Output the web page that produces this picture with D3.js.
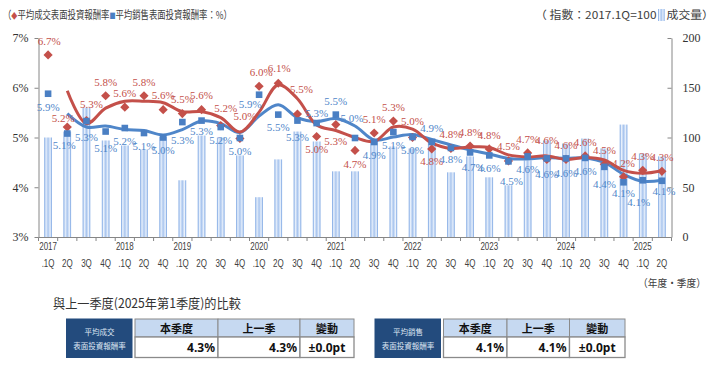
<!DOCTYPE html>
<html><head><meta charset="utf-8">
<script src="https://cdn.jsdelivr.net/npm/d3@7/dist/d3.min.js"></script>
<style>
body{margin:0;background:#fff;}
svg{display:block;}
</style>
</head><body>
<svg id="c" width="717" height="373"></svg>
<script>
// ---------- DATA ----------
const categories = ["2017.1Q","2017.2Q","2017.3Q","2017.4Q","2018.1Q","2018.2Q","2018.4Q",
  "2019.1Q","2019.2Q","2019.3Q","2019.4Q","2020.1Q","2020.2Q","2020.3Q","2020.4Q",
  "2021.1Q","2021.2Q","2021.3Q","2021.4Q","2022.1Q","2022.2Q","2022.3Q","2022.4Q",
  "2023.1Q","2023.2Q","2023.3Q","2023.4Q","2024.1Q","2024.2Q","2024.3Q","2024.4Q",
  "2025.1Q","2025.2Q"];
// 平均成交表面投資報酬率 (%)
const txYield = [6.66,5.21,5.34,5.84,5.61,5.84,5.56,5.48,5.56,5.24,4.98,6.03,6.09,5.47,5.02,
  5.26,4.74,5.09,5.33,5.00,4.77,4.78,4.83,4.77,4.53,4.69,4.56,4.56,4.63,4.46,4.21,4.34,4.32];
// 平均銷售表面投資報酬率 (%)
const askYield = [5.88,5.08,5.33,5.12,5.19,5.09,5.00,5.31,5.34,5.21,4.99,5.86,5.46,5.34,5.29,
  5.46,4.99,4.91,5.11,5.01,4.91,4.79,4.70,4.64,4.52,4.62,4.58,4.58,4.59,4.41,4.10,4.14,4.13];
// trend lines (2-quarter moving average)
const txTrend = [null,5.94,5.28,5.59,5.73,5.73,5.70,5.52,5.52,5.40,5.11,5.51,6.06,5.78,5.25,
  5.14,5.00,4.92,5.21,5.17,4.89,4.78,4.81,4.80,4.65,4.61,4.63,4.56,4.60,4.55,4.34,4.28,4.33];
const askTrend = [null,5.48,5.21,5.23,5.16,5.14,5.05,5.16,5.33,5.28,5.10,5.43,5.66,5.40,5.32,
  5.38,5.23,4.95,5.01,5.06,4.96,4.85,4.75,4.67,4.58,4.57,4.60,4.58,4.59,4.50,4.26,4.12,4.14];
// 成交量 (指數: 2017.1Q=100)
const volumeIndex = [100,106,130,97,92,88,101,57,102,100,82,40,78,106,96,66,66,98,91,89,99,
  65,81,60,52,77,97,94,99,89,113,84,81];
const leftTicks = [3,4,5,6,7];
const rightTicks = [0,50,100,150,200];
const tableHeaders = ["本季度","上一季","變動"];
const txCompare = ["4.3%","4.3%","±0.0pt"];
const askCompare = ["4.1%","4.1%","±0.0pt"];

// ---------- LABEL PLACEMENT (style) ----------
const redShift = {0:[1,-14],1:[-4,-9],2:[5,-16],9:[5,-17],10:[5,-22],11:[2,-14],12:[1,-15],13:[4,-25],
  14:[0,13],15:[0,17],16:[0,14],19:[0,-16],20:[0,12],24:[0,-15],26:[0,-19]};
const blueShift = {1:[-3,12],2:[0,16],3:[0,17],7:[0,18],8:[0,11],11:[-9,9],13:[0,17],14:[0,-10],
  15:[0,-13],16:[-3,-20],20:[0,-14],21:[0,11],22:[3,15],24:[3,20],26:[0,16],27:[0,15],29:[0,17],
  30:[0,11],31:[-4,22],32:[2,10]};

const RED = "#c4504a", BLUE = "#4a7fc3", BLUEL = "#4f86c9", AX = "#868686", TXT = "#404040";
const svg = d3.select("#c");

const x = d3.scaleBand().domain(categories).range([38.5, 671.5]).padding(0);
const cx = c => x(c) + x.bandwidth() / 2;
const yL = d3.scaleLinear().domain([3, 7]).range([237, 38]);
const yR = d3.scaleLinear().domain([0, 200]).range([237, 38]);

// gradient for bars
const defs = svg.append("defs");
const g = defs.append("linearGradient").attr("id", "bar").attr("x1", 0).attr("x2", 1).attr("y1", 0).attr("y2", 0);
[[0,"#6f9de0"],[0.22,"#e9f1fc"],[0.5,"#a9c5ee"],[0.78,"#e9f1fc"],[1,"#6f9de0"]]
  .forEach(s => g.append("stop").attr("offset", s[0]).attr("stop-color", s[1]));

// bars
const bw = 7.6;
svg.append("g").selectAll("rect").data(categories).join("rect")
  .attr("x", c => cx(c) - bw / 2).attr("width", bw)
  .attr("y", (c, i) => yR(volumeIndex[i])).attr("height", (c, i) => yR(0) - yR(volumeIndex[i]))
  .attr("fill", "url(#bar)");

// axes
const la = svg.append("g").attr("transform", "translate(38.5,0)")
  .call(d3.axisLeft(yL).tickValues(leftTicks).tickFormat(d => d + "%").tickSize(4).tickSizeOuter(0).tickPadding(6));
const ra = svg.append("g").attr("transform", "translate(671.5,0)")
  .call(d3.axisRight(yR).tickValues(rightTicks).tickSize(-4).tickSizeOuter(0).tickPadding(11));
[la, ra].forEach(a => {
  a.select(".domain").attr("stroke", AX);
  a.selectAll(".tick line").attr("stroke", AX);
  a.selectAll("text").attr("font-family", "'Liberation Serif', serif").attr("font-size", 12).attr("fill", "#333");
});
// bottom axis
const bx = svg.append("g");
bx.append("line").attr("x1", 38.5).attr("x2", 671.5).attr("y1", 237.5).attr("y2", 237.5).attr("stroke", AX);
bx.selectAll("line.t").data(categories.concat(["end"])).join("line").attr("class", "t")
  .attr("x1", c => c === "end" ? 671.5 : x(c)).attr("x2", c => c === "end" ? 671.5 : x(c))
  .attr("y1", 237.5).attr("y2", 241).attr("stroke", AX);
const xl = svg.append("g").attr("font-family", "'Liberation Sans', Arial, sans-serif").attr("font-size", 10).attr("fill", TXT);
categories.forEach(c => {
  const [yr, q] = c.split(".");
  const gg = xl.append("g").attr("transform", `translate(${cx(c)},0) scale(0.8,1)`);
  if (q === "1Q") gg.append("text").attr("y", 250).attr("text-anchor", "middle").text(yr);
  gg.append("text").attr("y", 267).attr("text-anchor", "middle").text(q === "1Q" ? ".1Q" : q);
});

// trend lines
const curve = d3.curveCatmullRom.alpha(0.5);
const lineL = d3.line().defined(d => d != null).x((d, i) => cx(categories[i])).y(d => yL(d)).curve(curve);
svg.append("path").attr("d", lineL(askTrend)).attr("fill", "none").attr("stroke", BLUEL).attr("stroke-width", 3);
svg.append("path").attr("d", lineL(txTrend)).attr("fill", "none").attr("stroke", RED).attr("stroke-width", 3);

// markers
svg.append("g").selectAll("path").data(txYield).join("path")
  .attr("d", d3.symbol(d3.symbolSquare, 42)())
  .attr("transform", (d, i) => `translate(${cx(categories[i])},${yL(d)}) rotate(45)`)
  .attr("fill", RED);
svg.append("g").selectAll("rect").data(askYield).join("rect")
  .attr("x", (d, i) => cx(categories[i]) - 3.3).attr("y", d => yL(d) - 3.3)
  .attr("width", 6.6).attr("height", 6.6).attr("fill", BLUE);

// data labels
const fmt = d3.format(".1f");
const lab = svg.append("g").attr("font-family", "'Liberation Serif', serif").attr("font-size", 11).attr("text-anchor", "middle");
txYield.forEach((d, i) => {
  const s = redShift[i] || [0, -14];
  lab.append("text").attr("x", cx(categories[i]) + s[0]).attr("y", yL(d) + s[1]).attr("dy", "0.35em")
    .attr("fill", RED).text(fmt(d) + "%");
});
askYield.forEach((d, i) => {
  const s = blueShift[i] || [0, 13];
  lab.append("text").attr("x", cx(categories[i]) + s[0]).attr("y", yL(d) + s[1]).attr("dy", "0.35em")
    .attr("fill", BLUEL).text(fmt(d) + "%");
});

// helpers to fit text horizontally
function fit(sel, x0, x1) {
  const w = sel.node().getComputedTextLength();
  const k = (x1 - x0) / w;
  sel.attr("x", 0).attr("transform", `translate(${x0},${sel.attr("data-y")}) scale(${k},1)`).attr("y", 0);
  return k;
}
function placeAt(sel, x0, k) {
  sel.attr("x", 0).attr("transform", `translate(${x0},${sel.attr("data-y")}) scale(${k},1)`).attr("y", 0);
}
const CJK = "'Noto Sans CJK TC','Noto Sans CJK JP',sans-serif";

// header left
const h1 = svg.append("text").attr("data-y", 19).attr("font-family", CJK).attr("font-size", 11).attr("fill", TXT);
h1.append("tspan").text("（");
h1.append("tspan").attr("fill", RED).attr("font-size", 8).text("◆");
h1.append("tspan").text("平均成交表面投資報酬率");
h1.append("tspan").attr("fill", BLUE).attr("font-size", 8).text("■");
h1.append("tspan").text("平均銷售表面投資報酬率：%）");
fit(h1, 3, 232);
// header right: spans about x 535 .. 714
const h2 = svg.append("text").attr("data-y", 19).attr("font-family", CJK).attr("font-size", 11).attr("fill", TXT).text("（ 指數：2017.1Q=100");
const h3 = svg.append("text").attr("data-y", 19).attr("font-family", CJK).attr("font-size", 11).attr("fill", TXT).text("成交量）");
const w2 = h2.node().getComputedTextLength(), w3 = h3.node().getComputedTextLength();
const k2 = (714 - 535 - 10) / (w2 + w3);
placeAt(h2, 535, k2);
const iconX = 535 + w2 * k2 + 1.5;
svg.append("rect").attr("x", iconX).attr("y", 9).attr("width", 6.5).attr("height", 12).attr("fill", "url(#bar)");
placeAt(h3, iconX + 8.5, k2);

// axis unit
const u = svg.append("text").attr("data-y", 287).attr("font-family", CJK).attr("font-size", 10.5).attr("fill", TXT).text("（年度·季度）");
fit(u, 638, 706);

// comparison title
const t = svg.append("text").attr("data-y", 307.5).attr("font-family", CJK).attr("font-size", 13).attr("fill", "#333").text("與上一季度(2025年第1季度)的比較");
fit(t, 53, 241);

// tables
function table(nx, cols, title1, title2, vals) {
  const tg = svg.append("g");
  tg.append("rect").attr("x", nx).attr("y", 318.5).attr("width", 66.5).attr("height", 39.5).attr("fill", "#234b7d");
  tg.append("text").attr("x", nx + 33.5).attr("y", 334.5).attr("text-anchor", "middle").attr("font-family", CJK)
    .attr("font-size", 7.5).attr("fill", "#dfe7f3").text(title1);
  tg.append("text").attr("x", nx + 33.5).attr("y", 349).attr("text-anchor", "middle").attr("font-family", CJK)
    .attr("font-size", 7.5).attr("fill", "#dfe7f3").text(title2);
  for (let k = 0; k < 3; k++) {
    const x0 = cols[k], x1 = cols[k + 1];
    tg.append("rect").attr("x", x0).attr("y", 319).attr("width", x1 - x0).attr("height", 18)
      .attr("fill", "#c6d9f1").attr("stroke", "#8a8a8a").attr("stroke-width", 1);
    tg.append("rect").attr("x", x0).attr("y", 337).attr("width", x1 - x0).attr("height", 20.5)
      .attr("fill", "#fff").attr("stroke", "#8a8a8a").attr("stroke-width", 1.3);
    tg.append("text").attr("x", (x0 + x1) / 2).attr("y", 332.5).attr("text-anchor", "middle")
      .attr("font-family", CJK).attr("font-size", 11).attr("font-weight", "bold").attr("fill", "#111").text(tableHeaders[k]);
    const last = k === 2;
    tg.append("text").attr("x", last ? (x0 + x1) / 2 : x1 - 3).attr("y", 352)
      .attr("text-anchor", last ? "middle" : "end")
      .attr("font-family", "'Noto Sans','Open Sans',sans-serif").attr("font-size", 12).attr("font-weight", "bold")
      .attr("fill", "#111").text(vals[k]);
  }
}
table(66, [135, 218, 300, 354], "平均成交", "表面投資報酬率", txCompare);
table(374.5, [443.5, 507, 569.5, 625], "平均銷售", "表面投資報酬率", askCompare);
</script>
</body></html>
